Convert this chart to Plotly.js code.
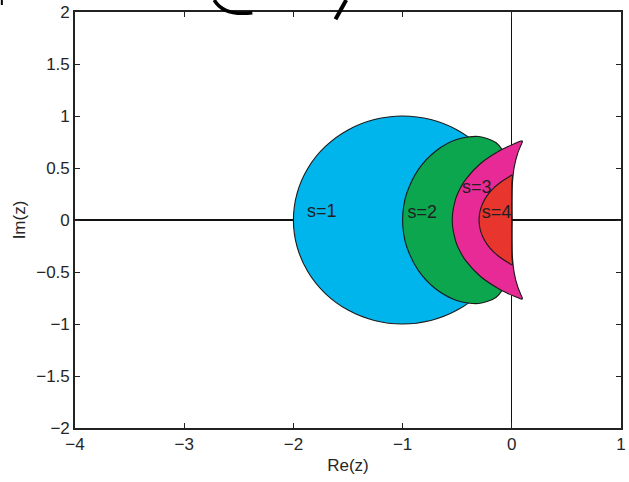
<!DOCTYPE html>
<html>
<head>
<meta charset="utf-8">
<script src="https://cdn.plot.ly/plotly-3.0.1.min.js"></script>
<style>html,body{margin:0;padding:0;background:#fff;}#chart{width:629px;height:482px;}</style>
</head>
<body>
<div id="chart"></div>
<script>
// Upper-half boundary points (Re, Im); lower half is the mirror image.
var s1X = [0, -0.0341, -0.1340, -0.2929, -0.5, -0.7412, -1, -1.2588, -1.5, -1.7071, -1.8660, -1.9659, -2];
var s1Y = [0, 0.2588, 0.5, 0.7071, 0.8660, 0.9659, 1, 0.9659, 0.8660, 0.7071, 0.5, 0.2588, 0];

var s2X = [0, -0.0002, -0.0033, -0.0405, -0.1429, -0.3049, -0.4990, -0.6923, -0.8547, -0.9624, -0.9905, -1];
var s2Y = [0, 0.1724, 0.3326, 0.5871, 0.7423, 0.8031, 0.7755, 0.6662, 0.4872, 0.2572, 0.1303, 0];

var s3X = [0, 0.0003, 0.0051, 0.0221, 0.0535, 0.0856, 0.0951, 0.0972, 0.0910, 0.0768, 0.0275, -0.0414, -0.1207, -0.2835, -0.4220, -0.4746, -0.5135, -0.5455];
var s3Y = [0, 0.1745, 0.3470, 0.5083, 0.6396, 0.7230, 0.7456, 0.7573, 0.7604, 0.7569, 0.7364, 0.7034, 0.6606, 0.5455, 0.3912, 0.3011, 0.2046, 0];

var s4X = [0, 0.0000, 0.0009, 0.0040, -0.0319, -0.1116, -0.1782, -0.2309, -0.2691, -0.2922, -0.3];
var s4Y = [0, 0.1746, 0.3506, 0.4310, 0.4111, 0.3557, 0.2944, 0.2270, 0.1545, 0.0782, 0];

var regionNames = ['s=1', 's=2', 's=3', 's=4'];
var regionColors = ['#00b4ec', '#0ca64f', '#e82a96', '#e8352d'];

var labelX = [-1.74, -0.82, -0.32, -0.14];
var labelY = [0.075, 0.065, 0.30, 0.065];
var labelText = ['s=1', 's=2', 's=3', 's=4'];

var xTicks = [-4, -3, -2, -1, 0, 1];
var yTicks = [-2, -1.5, -1, -0.5, 0, 0.5, 1, 1.5, 2];

function closeLoop(ux, uy) {
  var x = ux.slice(), y = uy.slice();
  for (var i = ux.length - 2; i >= 0; i--) { x.push(ux[i]); y.push(-uy[i]); }
  return {x: x, y: y};
}

var upper = [[s1X, s1Y], [s2X, s2Y], [s3X, s3Y], [s4X, s4Y]];
var traces = upper.map(function (u, k) {
  var c = closeLoop(u[0], u[1]);
  return {
    type: 'scatter', mode: 'lines', x: c.x, y: c.y, name: regionNames[k],
    fill: 'toself', fillcolor: regionColors[k],
    line: {color: '#1a1a1a', width: 1.1, shape: 'spline', smoothing: 0.8},
    hoverinfo: 'skip', showlegend: false
  };
});

traces.push({
  type: 'scatter', mode: 'text', x: labelX, y: labelY, text: labelText,
  textfont: {family: 'Liberation Sans, Arial, sans-serif', size: 18, color: '#1f1f1f'},
  textposition: 'middle center', hoverinfo: 'skip', showlegend: false
});

var tickFont = {family: 'Liberation Sans, Arial, sans-serif', size: 17, color: '#262626'};

var layout = {
  width: 629, height: 482,
  margin: {l: 75, r: 8, t: 12, b: 54},
  paper_bgcolor: '#ffffff', plot_bgcolor: '#ffffff',
  showlegend: false,
  xaxis: {
    range: [-4, 1], tickvals: xTicks, ticks: 'inside', ticklen: 5, tickwidth: 1,
    tickcolor: '#222', showline: true, linecolor: '#222', linewidth: 1.8, mirror: 'ticks',
    showgrid: false, zeroline: true, zerolinecolor: '#111', zerolinewidth: 1.4,
    layer: 'above traces', tickfont: tickFont, automargin: false,
    title: {text: 'Re(z)', font: tickFont, standoff: 6}
  },
  yaxis: {
    range: [-2, 2], tickvals: yTicks, ticks: 'inside', ticklen: 5, tickwidth: 1,
    tickcolor: '#222', showline: true, linecolor: '#222', linewidth: 1.8, mirror: 'ticks',
    showgrid: false, zeroline: true, zerolinecolor: '#111', zerolinewidth: 1.4,
    layer: 'above traces', tickfont: tickFont, automargin: false,
    title: {text: 'Im(z)', font: tickFont, standoff: 6}
  },
  shapes: [
    {type: 'path', xref: 'paper', yref: 'paper', layer: 'above',
     path: 'M 0.2550 1.0288 C 0.2679 1.0000 0.2917 0.9928 0.3248 0.9983',
     line: {color: '#000', width: 3.5}},
    {type: 'line', xref: 'paper', yref: 'paper', layer: 'above',
     x0: 0.4967, y0: 1.0288, x1: 0.4771, y1: 0.9825, line: {color: '#000', width: 4}},
    {type: 'line', xref: 'paper', yref: 'paper', layer: 'above',
     x0: -0.134, y0: 1.0288, x1: -0.134, y1: 1.0168, line: {color: '#000', width: 2}}
  ]
};

Plotly.newPlot('chart', traces, layout, {staticPlot: true, displayModeBar: false});
</script>
</body>
</html>
